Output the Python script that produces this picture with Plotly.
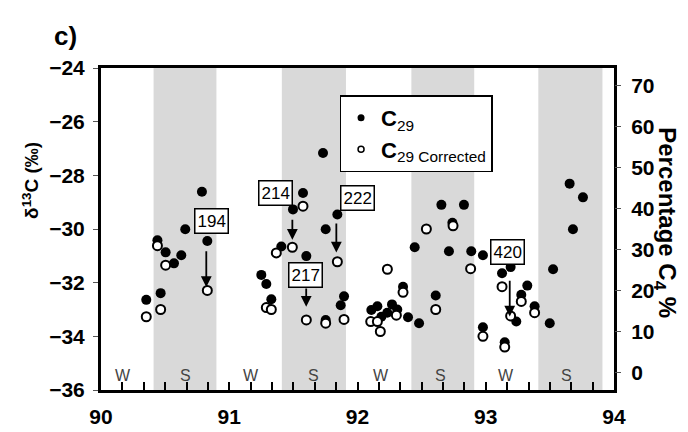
import plotly.graph_objects as go

# ---------------- data ----------------
c29_x = [90.353, 90.44, 90.465, 90.504, 90.569, 90.626, 90.657, 90.787, 90.829,
         91.25, 91.289, 91.328, 91.406, 91.497, 91.575, 91.601, 91.731, 91.752,
         91.752, 91.843, 91.869, 91.895, 92.108, 92.155, 92.186, 92.232, 92.269,
         92.31, 92.355, 92.394, 92.48, 92.446, 92.61, 92.654, 92.713, 92.74,
         92.83, 92.887, 92.978, 92.978, 93.127, 93.148, 93.194, 93.238, 93.277,
         93.324, 93.381, 93.499, 93.525, 93.654, 93.68, 93.758]
c29_y = [-32.64, -30.42, -32.39, -30.87, -31.28, -30.98, -30.01, -28.61, -30.45,
         -31.71, -32.05, -32.62, -30.65, -29.27, -28.66, -31.01, -27.17, -30.01,
         -33.39, -29.46, -32.84, -32.51, -33.02, -32.88, -33.27, -33.12, -32.81,
         -33.0, -32.15, -33.29, -33.51, -30.68, -32.48, -29.10, -30.83, -29.77,
         -29.10, -30.83, -30.98, -33.66, -31.65, -34.22, -31.42, -33.45, -32.45,
         -32.11, -32.88, -33.51, -31.50, -28.31, -30.01, -28.82]

corr_x = [90.353, 90.44, 90.465, 90.504, 90.829, 91.289, 91.328, 91.367, 91.492,
          91.575, 91.601, 91.752, 91.843, 91.895, 92.103, 92.155, 92.178, 92.233,
          92.303, 92.355, 92.537, 92.61, 92.745, 92.882, 92.978, 93.127, 93.148,
          93.194, 93.277, 93.381]
corr_y = [-33.27, -30.62, -33.0, -31.35, -32.29, -32.93, -33.0, -30.89, -30.68,
          -29.15, -33.39, -33.51, -31.22, -33.37, -33.45, -33.45, -33.82, -31.5,
          -33.21, -32.36, -30.0, -33.0, -29.88, -31.48, -34.0, -32.15, -34.40,
          -33.24, -32.70, -33.12]

# summer (S) season bands and season labels
summer_start = [90.41, 91.41, 92.42, 93.41]
summer_end = [90.90, 91.91, 92.91, 93.91]
season_labels = ["W", "S", "W", "S", "W", "S", "W", "S"]
season_x = [90.17, 90.66, 91.17, 91.66, 92.18, 92.65, 93.16, 93.63]

x_label_ticks = [90, 91, 92, 93, 94]
months_per_tick = 2          # x ticks every two months
y_ticks = [-36, -34, -32, -30, -28, -26, -24]
pct_ticks = [0, 10, 20, 30, 40, 50, 60, 70]

# labelled samples: label, arrow x, arrow tail, arrow head, label box position
sample_labels = ["194", "214", "217", "222", "420"]
arrow_x = [90.821, 91.492, 91.600, 91.835, 93.187]
arrow_tail = [-30.77, -29.60, -32.16, -29.74, -31.87]
arrow_head = [-32.16, -30.40, -32.90, -30.88, -33.26]
box_x = [90.862, 91.36, 91.592, 92.0, 93.17]
box_y = [-29.69, -28.67, -31.73, -28.83, -30.87]

# ---------------- figure ----------------
FONT = "Liberation Sans, Arial, sans-serif"
fig = go.Figure()

filled_marker = dict(color="black", line=dict(width=0))
open_marker = dict(color="white", line=dict(width=2, color="black"))

fig.add_trace(go.Scatter(
    x=c29_x, y=c29_y, mode="markers", showlegend=False,
    marker=dict(size=10, **filled_marker)))
fig.add_trace(go.Scatter(
    x=corr_x, y=corr_y, mode="markers", showlegend=False,
    marker=dict(size=9, **open_marker)))
# legend entries (smaller symbols, as in the original key)
fig.add_trace(go.Scatter(x=[None], y=[None], mode="markers",
                         name="<b>C</b><sub>29</sub>",
                         marker=dict(size=7, **filled_marker)))
fig.add_trace(go.Scatter(x=[None], y=[None], mode="markers",
                         name="<b>C</b><sub>29 Corrected</sub>",
                         marker=dict(size=6, color="white",
                                     line=dict(width=1.5, color="black"))))
# carrier for the right-hand axis
fig.add_trace(go.Scatter(x=[None], y=[None], yaxis="y2", showlegend=False,
                         hoverinfo="skip", mode="markers"))

shapes = []
for s0, s1 in zip(summer_start, summer_end):
    shapes.append(dict(type="rect", xref="x", yref="paper", x0=s0, x1=s1,
                       y0=0, y1=1, fillcolor="#d9d9d9", line=dict(width=0),
                       layer="below"))

annotations = []
for lab, sx in zip(season_labels, season_x):
    annotations.append(dict(x=sx, y=-35.45, xref="x", yref="y", text=lab,
                            showarrow=False,
                            font=dict(family=FONT, size=16, color="#444")))

for lab, ax_, t, h, bx, by in zip(sample_labels, arrow_x, arrow_tail,
                                  arrow_head, box_x, box_y):
    annotations.append(dict(x=ax_, y=h, ax=ax_, ay=t, xref="x", yref="y",
                            axref="x", ayref="y", text="", showarrow=True,
                            arrowhead=2, arrowsize=1.2, arrowwidth=1.8,
                            arrowcolor="black", standoff=0, startstandoff=0))
    annotations.append(dict(x=bx, y=by, xref="x", yref="y", text=lab,
                            showarrow=False, bgcolor="white",
                            bordercolor="black", borderwidth=1.5, borderpad=2,
                            font=dict(family=FONT, size=17, color="black")))

annotations.append(dict(x=-0.138, y=0.65, xref="paper", yref="paper",
                        text="δ<sup>13</sup>C (‰)", textangle=-90,
                        showarrow=False, xanchor="center", yanchor="middle",
                        font=dict(family=FONT, size=19, color="black",
                                  weight="bold")))
annotations.append(dict(x=1.10, y=0.52, xref="paper", yref="paper",
                        text="Percentage C<sub>4</sub> %", textangle=90,
                        showarrow=False, xanchor="center", yanchor="middle",
                        font=dict(family=FONT, size=24, color="black",
                                  weight="bold")))
annotations.append(dict(x=-0.07, y=1.098, xref="paper", yref="paper",
                        text="c)", showarrow=False, xanchor="center",
                        yanchor="middle",
                        font=dict(family=FONT, size=26, color="black",
                                  weight="bold")))

# x ticks every two months, labels on whole years only
n_sub = 12 // months_per_tick
x_tickvals, x_ticktext = [], []
for i, yr in enumerate(x_label_ticks):
    x_tickvals.append(yr)
    x_ticktext.append(str(yr))
    if i < len(x_label_ticks) - 1:
        for k in range(1, n_sub):
            x_tickvals.append(yr + k / n_sub)
            x_ticktext.append(" ")

tickfont = dict(family=FONT, size=21, color="black", weight="bold")

fig.update_layout(
    width=688, height=432,
    margin=dict(l=93, r=82, t=60, b=44),
    paper_bgcolor="white", plot_bgcolor="white",
    shapes=shapes, annotations=annotations,
    showlegend=True,
    legend=dict(x=0.465, y=0.915, xanchor="left", yanchor="top",
                bgcolor="white", bordercolor="black", borderwidth=1.5,
                font=dict(family=FONT, size=22, color="black"),
                itemsizing="trace", tracegroupgap=0, itemwidth=30),
    xaxis=dict(range=[90, 94], tickvals=x_tickvals, ticktext=x_ticktext,
               showgrid=False, zeroline=False, showline=True,
               linecolor="black", linewidth=3, mirror=True, ticks="inside",
               ticklen=8, tickwidth=2, tickcolor="black", tickfont=tickfont,
               ticklabelstandoff=6),
    yaxis=dict(range=[-36, -24], tickvals=y_ticks, showgrid=False,
               zeroline=False, showline=True, linecolor="black", linewidth=3,
               mirror=True, ticks="outside", ticklen=5, tickwidth=1,
               tickcolor="#555", tickfont=tickfont, ticklabelstandoff=4),
    yaxis2=dict(range=[-4.3, 74.3], tickvals=pct_ticks, overlaying="y",
                side="right", showgrid=False, zeroline=False, showline=False,
                ticks="outside", ticklen=6, tickwidth=1, tickcolor="#555",
                tickfont=tickfont, ticklabelstandoff=6),
)

fig.write_html("out.html")
